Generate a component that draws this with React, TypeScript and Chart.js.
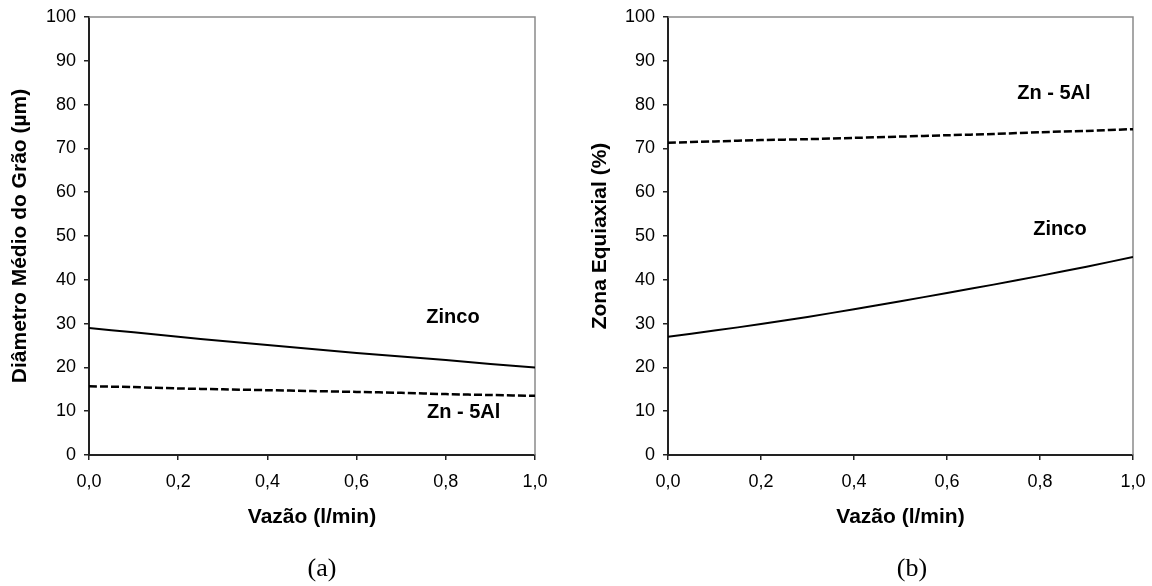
import React, { useEffect, useRef } from 'react';
import { Chart, registerables } from 'chart.js';

Chart.register(...registerables);

// ---- Data ----
const flowRates = [0, 0.1, 0.2, 0.3, 0.4, 0.5, 0.6, 0.7, 0.8, 0.9, 1.0];

// (a) Diâmetro Médio do Grão (µm)
const grainZinco = [29.0, 28.0, 27.0, 26.0, 25.1, 24.2, 23.3, 22.5, 21.7, 20.8, 20.0];
const grainZnAl = [15.7, 15.5, 15.2, 15.0, 14.8, 14.6, 14.4, 14.2, 13.9, 13.7, 13.5];

// (b) Zona Equiaxial (%)
const equiZinco = [27.0, 28.4, 29.9, 31.5, 33.3, 35.1, 37.0, 38.9, 40.9, 43.0, 45.2];
const equiZnAl = [71.3, 71.6, 71.9, 72.1, 72.4, 72.7, 73.0, 73.3, 73.7, 74.0, 74.4];

const seriesNames = ['Zinco', 'Zn - 5Al'];

// in-plot labels (data coordinates)
const labelTextsA = ['Zinco', 'Zn - 5Al'];
const labelXA = [0.816, 0.84];
const labelYA = [31.5, 9.6];
const labelTextsB = ['Zn - 5Al', 'Zinco'];
const labelXB = [0.83, 0.843];
const labelYB = [82.6, 51.6];

const xTitle = 'Vazão (l/min)';
const yTitleA = 'Diâmetro Médio do Grão (µm)';
const yTitleB = 'Zona Equiaxial (%)';
const captions = ['(a)', '(b)'];

const SANS = "'Liberation Sans', Arial, sans-serif";

const framePlugin = {
  id: 'frame',
  beforeDatasetsDraw(chart: any) {
    const { ctx, chartArea } = chart;
    ctx.save();
    ctx.strokeStyle = '#8a8a8a';
    ctx.lineWidth = 1.5;
    ctx.beginPath();
    ctx.moveTo(chartArea.left, chartArea.top);
    ctx.lineTo(chartArea.right, chartArea.top);
    ctx.lineTo(chartArea.right, chartArea.bottom);
    ctx.stroke();
    ctx.restore();
  },
};

const labelPlugin = {
  id: 'inlabels',
  afterDatasetsDraw(chart: any, _args: any, opts: any) {
    const { ctx, scales } = chart;
    if (!opts || !opts.texts) return;
    ctx.save();
    ctx.fillStyle = '#000';
    ctx.font = `bold 20px ${SANS}`;
    ctx.textAlign = 'center';
    ctx.textBaseline = 'middle';
    opts.texts.forEach((t: string, i: number) => {
      ctx.fillText(t, scales.x.getPixelForValue(opts.xs[i]), scales.y.getPixelForValue(opts.ys[i]));
    });
    ctx.restore();
  },
};

function makeConfig(
  zinco: number[],
  znal: number[],
  yTitle: string,
  yAxisWidth: number,
  yTitlePad: number,
  rightPad: number,
  texts: string[],
  xs: number[],
  ys: number[]
): any {
  return {
    type: 'line',
    data: {
      datasets: [
        {
          label: seriesNames[0],
          data: flowRates.map((x, i) => ({ x, y: zinco[i] })),
          borderColor: '#000',
          borderWidth: 2,
          pointRadius: 0,
          tension: 0.3,
          fill: false,
        },
        {
          label: seriesNames[1],
          data: flowRates.map((x, i) => ({ x, y: znal[i] })),
          borderColor: '#000',
          borderWidth: 2.5,
          borderDash: [8, 3],
          pointRadius: 0,
          tension: 0.3,
          fill: false,
        },
      ],
    },
    options: {
      responsive: false,
      animation: false,
      devicePixelRatio: 1,
      layout: { padding: { left: 0, top: 17, right: rightPad, bottom: 56 } },
      plugins: {
        legend: { display: false },
        tooltip: { enabled: false },
        inlabels: { texts, xs, ys },
      },
      scales: {
        x: {
          type: 'linear',
          min: 0,
          max: 1,
          afterFit: (s: any) => {
            s.height = 75;
            s.paddingLeft = 0;
            s.paddingRight = 0;
          },
          ticks: {
            stepSize: 0.2,
            color: '#000',
            font: { family: SANS, size: 18 },
            padding: 11,
            maxRotation: 0,
            callback: (v: any) => Number(v).toFixed(1).replace('.', ','),
          },
          grid: { drawOnChartArea: false, drawTicks: true, tickLength: 5, color: '#222', lineWidth: 1.5 },
          border: { display: true, color: '#222', width: 2 },
          title: {
            display: true,
            text: xTitle,
            color: '#000',
            font: { family: SANS, size: 21, weight: 'bold' },
            padding: { top: 0, bottom: 0 },
          },
        },
        y: {
          type: 'linear',
          min: 0,
          max: 100,
          afterFit: (s: any) => {
            s.width = yAxisWidth;
            s.paddingTop = 0;
            s.paddingBottom = 0;
          },
          ticks: {
            stepSize: 10,
            color: '#000',
            font: { family: SANS, size: 18 },
            padding: 8,
          },
          grid: { drawOnChartArea: false, drawTicks: true, tickLength: 5, color: '#222', lineWidth: 1.5 },
          border: { display: true, color: '#222', width: 2 },
          title: {
            display: true,
            text: yTitle,
            color: '#000',
            font: { family: SANS, size: 21, weight: 'bold' },
            padding: { top: yTitlePad, bottom: 0 },
          },
        },
      },
    },
    plugins: [framePlugin, labelPlugin],
  };
}

function ChartCanvas({ config, left }: { config: any; left: number }) {
  const ref = useRef<HTMLCanvasElement | null>(null);
  useEffect(() => {
    if (!ref.current) return;
    const chart = new Chart(ref.current, config);
    return () => chart.destroy();
  }, [config]);
  return (
    <canvas
      ref={ref}
      width={576}
      height={586}
      style={{ position: 'absolute', left, top: 0, width: 576, height: 586 }}
    />
  );
}

const configA = makeConfig(grainZinco, grainZnAl, yTitleA, 89, 8, 41, labelTextsA, labelXA, labelYA);
const configB = makeConfig(equiZinco, equiZnAl, yTitleB, 92, 12, 19, labelTextsB, labelXB, labelYB);

export default function App() {
  const captionStyle = (center: number): React.CSSProperties => ({
    position: 'absolute',
    left: center - 50,
    width: 100,
    top: 553,
    lineHeight: '30px',
    textAlign: 'center',
    fontFamily: "'Liberation Serif', 'Times New Roman', serif",
    fontSize: 26,
    color: '#000',
  });
  return (
    <div style={{ position: 'fixed', left: 0, top: 0, width: 1152, height: 586, background: '#fff', overflow: 'hidden' }}>
      <ChartCanvas config={configA} left={0} />
      <ChartCanvas config={configB} left={576} />
      <div style={captionStyle(322)}>{captions[0]}</div>
      <div style={captionStyle(912)}>{captions[1]}</div>
    </div>
  );
}
